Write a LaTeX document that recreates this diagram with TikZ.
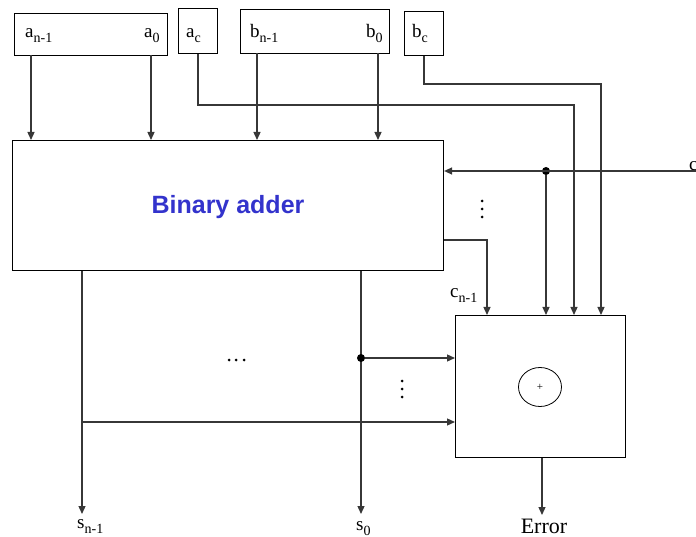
\documentclass[tikz,border=0pt]{standalone}
\usepackage{fontspec}
\setmainfont{Liberation Serif}
\newfontfamily\adderfont{Liberation Sans}
\usetikzlibrary{positioning,arrows.meta,shapes.geometric}
\definecolor{adderblue}{RGB}{51,51,204}
\definecolor{wirecol}{RGB}{55,55,55}
\newcommand{\lsub}[1]{\raisebox{-5pt}{\fontsize{14}{16}\selectfont #1}}

\begin{document}
\begin{tikzpicture}[x=1pt,y=-1pt,>={Triangle[length=8pt,width=7pt]},
  every node/.style={inner sep=0pt},
  box/.style={draw,line width=1.1pt,anchor=north west},
  lbl/.style={font=\fontsize{19}{22}\selectfont,anchor=base west},
  wire/.style={draw=wirecol,line width=1.3pt},
  jdot/.style={circle,fill=black,minimum size=8pt},
  sdot/.style={circle,fill=black,minimum size=3pt}]
\useasboundingbox (0,0) rectangle (696,537);

% registers
\node[box,minimum width=153pt,minimum height=42pt] (abox) at (14,13) {};
\node[box,minimum width=39pt,minimum height=45pt] (acbox) at (178,8) {};
\node[box,minimum width=149pt,minimum height=44pt] (bbox) at (240,9) {};
\node[box,minimum width=39pt,minimum height=44pt] (bcbox) at (404,11) {};
\node[lbl] (an) at (25,38) {a\lsub{n-1}};
\node[lbl] (a0) at (144,38) {a\lsub{0}};
\node[lbl] (ac) at (186,38) {a\lsub{c}};
\node[lbl] (bn) at (250,38) {b\lsub{n-1}};
\node[lbl] (b0) at (366,38) {b\lsub{0}};
\node[lbl] (bc) at (412,38) {b\lsub{c}};

% adder and checker
\node[box,minimum width=431pt,minimum height=130pt] (adder) at (12,140) {};
\node[font=\adderfont\bfseries\fontsize{25}{30}\selectfont,text=adderblue] (title) at (228,207) {Binary adder};
\node[box,minimum width=170pt,minimum height=142pt] (xor) at (455,315) {};
\node[draw,line width=0.8pt,ellipse,minimum width=43pt,minimum height=39pt,font=\fontsize{11}{12}\selectfont] (xorop) at (540,387) {+};

% inputs
\coordinate (pan) at (31,55);
\coordinate (pa0) at (151,55);
\coordinate (pbn) at (257,53);
\coordinate (pb0) at (378,53);
\foreach \p in {pan,pa0,pbn,pb0}
  \draw[wire,->] (\p) -- (\p |- adder.north);
\coordinate (acturn) at (574,105);
\coordinate (bcturn) at (601,84);
\draw[wire,->] (acbox.south) |- (acturn) -- (acturn |- xor.north);
\draw[wire,->] (bcbox.south) |- (bcturn) -- (bcturn |- xor.north);

% carry in
\node[lbl] (cin) at (689,171) {c};
\coordinate (cend) at (696,171);
\node[jdot] (cdot) at (546,171) {};
\draw[wire,->] (cend) -- (cend -| adder.east);
\draw[wire,->] (cdot) -- (cdot |- xor.north);
\foreach \y in {201,209,217} \node[sdot] at (482,\y) {};

% carry out
\coordinate (cn) at (487,240);
\draw[wire,->] (cn -| adder.east) -- (cn) -- (cn |- xor.north);
\node[lbl] (cnl) at (450,298) {c\lsub{n-1}};

% sums
\node[lbl] (sn) at (77,528) {s\lsub{n-1}};
\node[lbl] (s0) at (356,530) {s\lsub{0}};
\coordinate (psn) at (82,514);
\coordinate (ps0) at (361,514);
\draw[wire,->] (psn |- adder.south) -- (psn);
\draw[wire,->] (ps0 |- adder.south) -- (ps0);
\node[jdot] (s0dot) at (361,358) {};
\coordinate (sntap) at (82,422);
\draw[wire,->] (s0dot) -- (s0dot -| xor.west);
\draw[wire,->] (sntap) -- (sntap -| xor.west);
\foreach \x in {229,236,244} \node[sdot] at (\x,360) {};
\foreach \y in {381,389,397} \node[sdot] at (402,\y) {};

% result
\node[font=\fontsize{22}{26}\selectfont,anchor=base] (err) at (544,533) {Error};
\draw[wire,->] (xor.south -| 542,0) -- (542,515);
\end{tikzpicture}
\end{document}
